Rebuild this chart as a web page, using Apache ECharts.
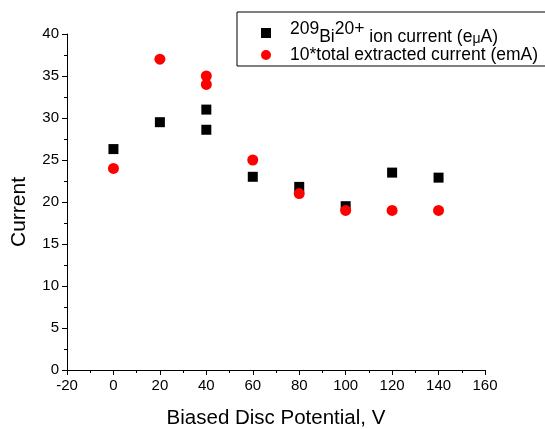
<!DOCTYPE html>
<html><head><meta charset="utf-8">
<script src="https://cdn.jsdelivr.net/npm/echarts@6/dist/echarts.min.js"></script>
<style>html,body{margin:0;padding:0;background:#fff}#c{width:545px;height:429px}</style>
</head><body><div id="c"></div>
<script>
const biX = [0, 20, 40, 40, 60, 80, 100, 120, 140];
const biY = [26.3, 29.5, 31.0, 28.6, 23.0, 21.8, 19.5, 23.5, 22.9];
const totX = [0, 20, 40, 40, 60, 80, 100, 120, 140];
const totY = [24.0, 37.0, 35.0, 34.0, 25.0, 21.0, 19.0, 19.0, 19.0];
const seriesNames = ['bi', 'tot'];
const xTitle = 'Biased Disc Potential, V';
const yTitle = 'Current';

const F = 'Liberation Sans, Arial, sans-serif';
const chart = echarts.init(document.getElementById('c'), null, {renderer: 'canvas'});
const axisCommon = {
  axisLine: {show: true, onZero: false, lineStyle: {color: '#000', width: 1}},
  axisTick: {show: true, inside: false, length: 5, lineStyle: {color: '#000'}},
  minorTick: {show: true, splitNumber: 2, length: 3, lineStyle: {color: '#000'}},
  splitLine: {show: false},
  axisLabel: {color: '#000', fontFamily: F, fontSize: 15}
};
chart.setOption({
  animation: false,
  grid: {left: 67, right: 60, top: 34, bottom: 59, containLabel: false, outerBoundsMode: 'none'},
  xAxis: Object.assign({type: 'value', min: -20, max: 160, interval: 20,
    name: xTitle, nameLocation: 'middle', nameGap: 38,
    nameTextStyle: {color: '#000', fontFamily: F, fontSize: 20.5}}, axisCommon),
  yAxis: Object.assign({type: 'value', min: 0, max: 40, interval: 5,
    name: yTitle, nameLocation: 'middle', nameGap: 37,
    nameTextStyle: {color: '#000', fontFamily: F, fontSize: 21, padding: [0, 20, 0, 0]}}, axisCommon),
  legend: {
    show: true, orient: 'vertical', left: 237, top: 12,
    padding: [8, 45, 2, 24],
    borderColor: '#000', borderWidth: 1, borderRadius: 0,
    itemWidth: 10, itemHeight: 10, itemGap: 0,
    textStyle: {fontFamily: F, fontSize: 17.5, color: '#000',
      rich: {
        sup0: {fontFamily: F, fontSize: 17.5, color: '#000', verticalAlign: 'top', lineHeight: 26, padding: [0, 0, 0, 14]},
        sup: {fontFamily: F, fontSize: 17.5, color: '#000', verticalAlign: 'top', lineHeight: 26},
        n: {fontFamily: F, fontSize: 17.5, color: '#000', verticalAlign: 'bottom', lineHeight: 26},
        mu: {fontFamily: F, fontSize: 14, color: '#000', verticalAlign: 'bottom', lineHeight: 25},
        p: {fontFamily: F, fontSize: 17.5, color: '#000', lineHeight: 20, padding: [0, 0, 0, 14]}
      }},
    formatter: function (name) {
      if (name === 'bi') return '{sup0|209}{n|Bi}{sup|20+}{n| ion current (e}{mu|μ}{n|A)}';
      return '{p|10*total extracted current (emA)}';
    },
    data: [{name: 'bi', icon: 'rect'}, {name: 'tot', icon: 'circle'}]
  },
  series: [
    {name: seriesNames[0], type: 'scatter', symbol: 'rect', symbolSize: 10,
     itemStyle: {color: '#000', opacity: 1}, z: 2,
     data: biX.map((x, i) => [x, biY[i]])},
    {name: seriesNames[1], type: 'scatter', symbol: 'circle', symbolSize: 11,
     itemStyle: {color: '#ff0000', opacity: 1}, z: 3,
     data: totX.map((x, i) => [x, totY[i]])}
  ]
});
</script></body></html>
